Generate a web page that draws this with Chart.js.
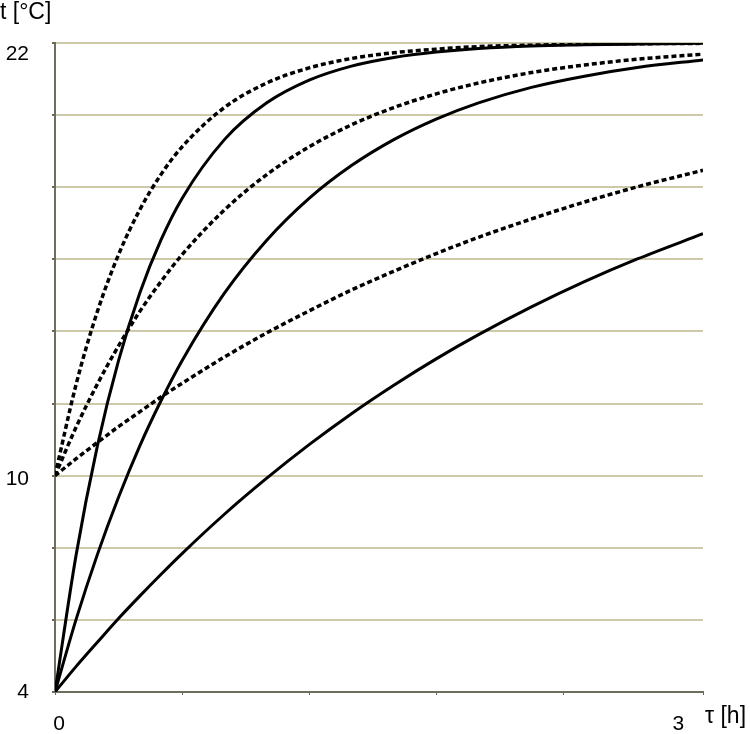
<!DOCTYPE html>
<html>
<head>
<meta charset="utf-8">
<script src="https://cdn.jsdelivr.net/npm/chart.js@4"></script>
<style>
  html, body { margin: 0; padding: 0; background: #fff; }
  canvas { display: block; }
</style>
</head>
<body>
<canvas id="chart" width="750" height="734"></canvas>
<script>
// time, h
const tau = [0, 0.1, 0.2, 0.3, 0.4, 0.5, 0.6, 0.8, 1.0, 1.2, 1.4, 1.6, 1.8, 2.0, 2.25, 2.5, 2.75, 3.06]

// start 4 °C (solid)
const solidFast = [4, 7.81, 10.82, 13.19, 15.06, 16.53, 17.69, 19.32, 20.34, 20.97, 21.36, 21.60, 21.75, 21.85, 21.92, 21.95, 21.97, 21.99]
const solidMid  = [4, 6.02, 7.81, 9.40, 10.82, 12.07, 13.19, 15.06, 16.53, 17.69, 18.60, 19.32, 19.89, 20.34, 20.77, 21.08, 21.32, 21.53]
const solidSlow = [4, 4.71, 5.38, 6.04, 6.66, 7.26, 7.84, 8.93, 9.93, 10.86, 11.72, 12.51, 13.24, 13.91, 14.68, 15.38, 16.01, 16.71]

// start 10 °C (dashed)
const dashFast = [10, 12.54, 14.55, 16.13, 17.37, 18.35, 19.12, 20.21, 20.89, 21.31, 21.57, 21.73, 21.83, 21.90, 21.94, 21.97, 21.98, 21.99]
const dashMid  = [10, 11.35, 12.54, 13.60, 14.55, 15.38, 16.13, 17.37, 18.35, 19.12, 19.73, 20.21, 20.59, 20.89, 21.18, 21.39, 21.55, 21.69]
const dashSlow = [10, 10.47, 10.92, 11.36, 11.77, 12.18, 12.56, 13.29, 13.96, 14.57, 15.15, 15.67, 16.16, 16.61, 17.12, 17.59, 18.01, 18.47]

const yTickLabels = [22, 10, 4]
const xTickLabels = [0, 3]

const NUM_FONT = '21px "Liberation Sans", Arial, sans-serif'
const TITLE_FONT = '23px "Liberation Sans", Arial, sans-serif'

const pts = arr => arr.map((v, i) => ({ x: tau[i], y: v }))

const line = (arr, dashed) => ({
  data: pts(arr),
  borderColor: '#000',
  borderWidth: dashed ? 3.5 : 3,
  borderDash: dashed ? [5, 3] : [],
  pointRadius: 0,
  fill: false,
  cubicInterpolationMode: 'monotone',
})

// axis texts drawn at the scale positions
const axisText = {
  id: 'axisText',
  afterDraw(chart) {
    const ctx = chart.ctx
    const xs = chart.scales.x
    const ys = chart.scales.y
    ctx.save()
    ctx.fillStyle = '#000'
    ctx.font = NUM_FONT
    ctx.textBaseline = 'middle'
    ctx.textAlign = 'right'
    yTickLabels.forEach(v => {
      const nudge = v === 22 ? 11 : v === 10 ? 4 : 0
      ctx.fillText(String(v), 29, ys.getPixelForValue(v) + nudge)
    })
    ctx.textAlign = 'center'
    xTickLabels.forEach(v => {
      const nudge = v === 0 ? 4 : -12
      ctx.fillText(String(v), xs.getPixelForValue(v) + nudge, 724)
    })
    ctx.font = TITLE_FONT
    ctx.textAlign = 'left'
    ctx.fillText('t [°C]', 0, 13)
    ctx.fillText('τ [h]', 705, 717)
    ctx.restore()
  }
}

new Chart(document.getElementById('chart'), {
  type: 'line',
  data: {
    datasets: [
      line(solidFast, false),
      line(solidMid, false),
      line(solidSlow, false),
      line(dashFast, true),
      line(dashMid, true),
      line(dashSlow, true),
    ]
  },
  options: {
    responsive: false,
    animation: false,
    devicePixelRatio: 1,
    layout: { padding: { top: 43, right: 47, left: 0, bottom: 0 } },
    plugins: { legend: { display: false }, tooltip: { enabled: false } },
    scales: {
      x: {
        type: 'linear',
        min: 0,
        max: 3.06,
        ticks: { display: false, stepSize: 0.6 },
        grid: { drawOnChartArea: false, drawTicks: true, tickLength: 3, tickColor: '#666658' },
        border: { color: '#6e6e60', width: 2 },
        afterFit: s => { s.height = 42 },
      },
      y: {
        min: 4,
        max: 22,
        ticks: { display: false, stepSize: 2 },
        grid: { color: '#cdc9a9', lineWidth: 2, drawTicks: true, tickLength: 3, tickColor: '#666658' },
        border: { color: '#6e6e60', width: 2 },
        afterFit: s => { s.width = 55 },
      }
    }
  },
  plugins: [axisText]
})
</script>
</body>
</html>
